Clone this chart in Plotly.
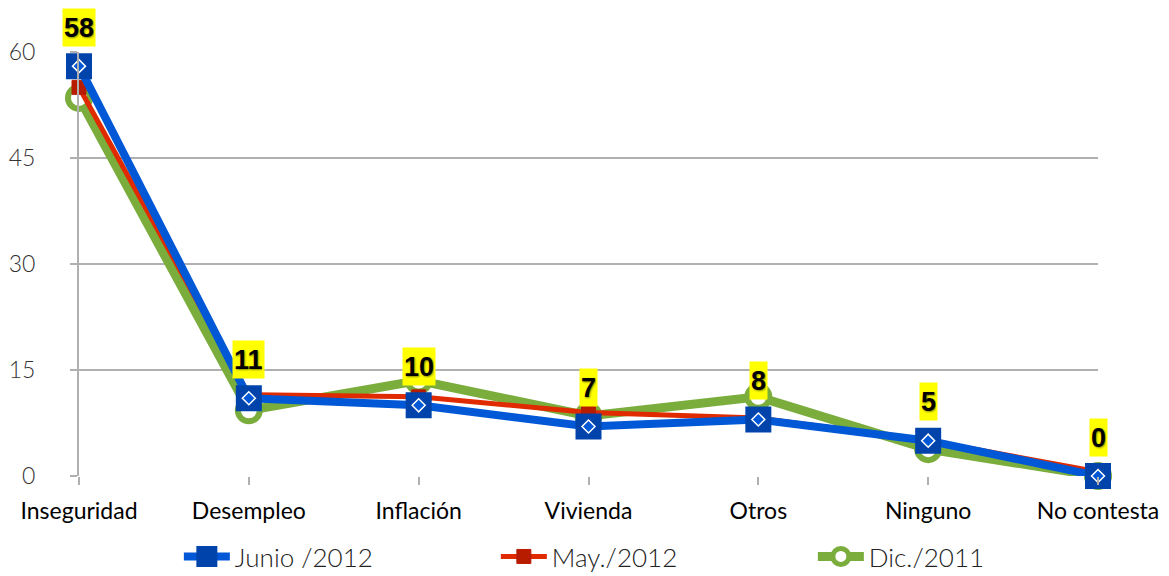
import plotly.graph_objects as go

categories = ["Inseguridad", "Desempleo", "Inflación", "Vivienda", "Otros", "Ninguno", "No contesta"]
junio_2012 = [58, 11, 10, 7, 8, 5, 0]
may_2012 = [55, 11.5, 11.2, 9, 8.2, 5, 0.6]
dic_2011 = [53.5, 9.3, 13.5, 8.5, 11.2, 3.8, 0]
labels = ["58", "11", "10", "7", "8", "5", "0"]
y_ticks = [0, 15, 30, 45, 60]

xs = list(range(len(categories)))
fig = go.Figure()

fig.add_trace(go.Scatter(
    x=xs, y=dic_2011, name="Dic./2011", mode="lines+markers",
    line=dict(color="#7aad3c", width=9),
    marker=dict(symbol="circle", size=22, color="white", line=dict(color="#7aad3c", width=6)),
    cliponaxis=False, legendrank=3))
fig.add_trace(go.Scatter(
    x=xs, y=may_2012, name="May./2012", mode="lines+markers",
    line=dict(color="#e02a00", width=5),
    marker=dict(symbol="square", size=14, color="#b81c00", line=dict(color="#b81c00", width=1)),
    cliponaxis=False, legendrank=2))
fig.add_trace(go.Scatter(
    x=xs, y=junio_2012, name="Junio /2012", mode="lines+markers",
    line=dict(color="#0058d6", width=8),
    marker=dict(symbol="square", size=20, color="#0044ab", line=dict(color="#0044ab", width=6)),
    cliponaxis=False, legendrank=1))
fig.add_trace(go.Scatter(
    x=xs, y=junio_2012, mode="markers", showlegend=False, hoverinfo="skip",
    marker=dict(symbol="diamond", size=10, color="#0058d6", line=dict(color="white", width=1.5)),
    cliponaxis=False))

for xv, yv, t in zip(xs, junio_2012, labels):
    fig.add_annotation(
        x=xv, y=yv, text="<b>%s</b>" % t, showarrow=False, yshift=39,
        bgcolor="#ffff00", borderpad=1, height=35,
        font=dict(family="Liberation Sans, Arial", size=27, color="black",
                  shadow="1px 1px 2px rgba(0,0,0,0.45)"))

fig.update_layout(
    width=1169, height=576,
    margin=dict(l=79, r=71, t=52, b=100, autoexpand=False),
    plot_bgcolor="white", paper_bgcolor="white",
    showlegend=True,
    legend=dict(orientation="h", x=0.098, xanchor="left", y=-0.19, yanchor="middle",
                font=dict(family="Lato, Noto Sans", size=26, color="#222", weight=300),
                entrywidth=256, itemwidth=46),
    xaxis=dict(
        tickmode="array", tickvals=xs, ticktext=categories, automargin=False,
        range=[0, len(categories) - 1], showgrid=False, zeroline=False,
        showline=False, ticks="outside", ticklen=8, tickwidth=2, tickcolor="#b0b0b0",
        ticklabelstandoff=6,
        tickfont=dict(family="Lato, Noto Sans", size=23, color="black", weight=400)),
    yaxis=dict(
        tickmode="array", tickvals=y_ticks, range=[0, 60], automargin=False,
        showgrid=True, gridcolor="#b0b0b0", gridwidth=2,
        zeroline=False, showline=True, linecolor="#b0b0b0", linewidth=2,
        ticks="outside", ticklen=7, tickwidth=2, tickcolor="#b0b0b0",
        ticklabelstandoff=30,
        tickfont=dict(family="Lato, Noto Sans", size=23, color="#333", weight=300)),
)

fig.write_html("out.html", config={"displayModeBar": False},
               post_script="document.body.style.margin='0';")
